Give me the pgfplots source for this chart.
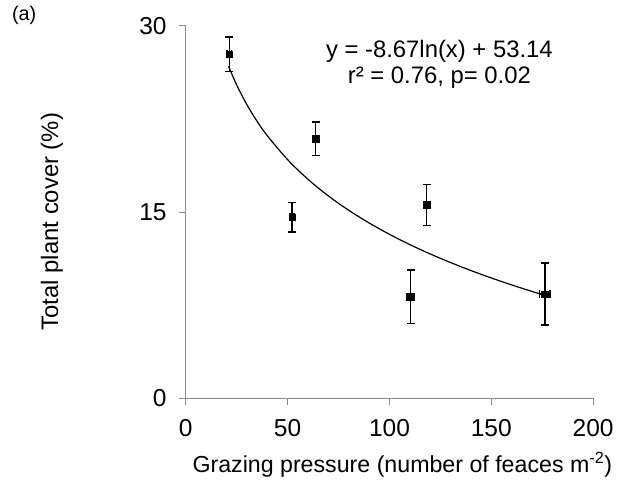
\documentclass[border=0pt]{standalone}
\usepackage{pgfplots}
\pgfplotsset{compat=1.18}
\usepackage{fontspec}
\setmainfont{Liberation Sans}
\begin{document}
\begin{tikzpicture}[x=1pt,y=1pt]
\begin{axis}[
  at={(0,0)}, anchor=south west,
  scale only axis, width=307.5pt, height=281.25pt,
  xmin=0, xmax=200, ymin=0, ymax=30,
  axis x line*=bottom, axis y line*=left,
  axis line style={draw=black!45, line width=0.8pt},
  xtick={0,50,100,150,200}, ytick={0,15,30},
  tick style={draw=black!45, line width=0.8pt},
  tick align=outside, major tick length=5pt,
  /pgf/number format/assume math mode=true,
  tick label style={font=\fontsize{18.5}{22}\selectfont},
  xticklabel style={yshift=-7pt},
  yticklabel style={xshift=-6pt},
  clip=false,
]
\addplot[black, line width=0.9pt, smooth] coordinates {
(21,26.744) (25,25.232) (30,23.652) (35,22.315) (40,21.157) (50,19.223)
(60,17.642) (70,16.306) (80,15.148) (90,14.127) (100,13.213) (110,12.387)
(120,11.632) (130,10.939) (140,10.296) (150,9.698) (160,9.138) (170,8.613) (176,8.312)
};
\addplot[only marks, mark=square*, mark size=2.5pt, black,
  error bars/.cd, x dir=both, x explicit, y dir=both, y explicit,
  error bar style={line width=1pt, black},
  error mark options={rotate=90, mark size=3pt, line width=1pt}]
  coordinates {
(21.3,27.7) +- (1,1.4)
(52.2,14.6) +- (1,1.2)
(63.7,20.9) +- (1,1.35)
(110.4,8.2) +- (2,2.15)
(118.2,15.6) +- (1,1.65)
(176.3,8.4) +- (2.5,2.5)
};
\node[font=\fontsize{18}{21}\selectfont, align=center] at (axis cs:124.5,26.9)
  {y = -8.67ln(x) + 53.14\\[-1pt] r² = 0.76, p= 0.02};
\end{axis}
\node[font=\fontsize{18}{21}\selectfont, rotate=90] at (-101pt,133.5pt) {Total plant cover (\%)};
\node[font=\fontsize{17.5}{20}\selectfont] at (163.5pt,-50pt) {Grazing pressure (number of feaces m\textsuperscript{-2})};
\node[font=\fontsize{15}{17}\selectfont] at (-122pt,289pt) {(a)};
\path[use as bounding box] (-140.25pt,-66.75pt) rectangle (323.25pt,300.75pt);
\end{tikzpicture}
\end{document}
